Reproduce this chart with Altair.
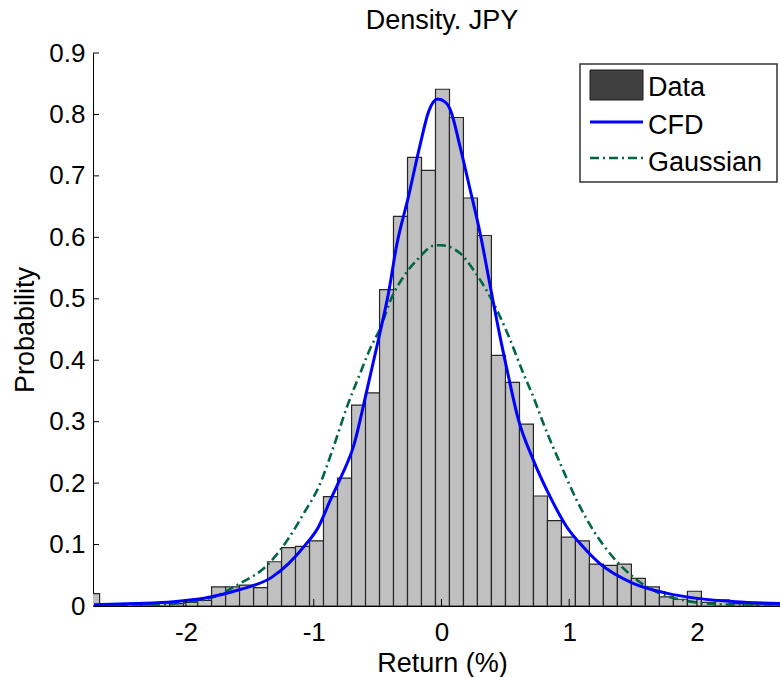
import altair as alt
import pandas as pd

# ---------------- data ----------------
BIN_CENTERS = [-2.731, -2.621, -2.512, -2.402, -2.293, -2.183, -2.074, -1.964, -1.854, -1.745,
               -1.635, -1.526, -1.416, -1.307, -1.197, -1.088, -0.978, -0.869, -0.759, -0.649,
               -0.540, -0.430, -0.321, -0.211, -0.102, 0.008, 0.117, 0.227, 0.336, 0.446,
               0.556, 0.665, 0.775, 0.884, 0.994, 1.103, 1.213, 1.322, 1.432, 1.541,
               1.651, 1.761, 1.870, 1.980, 2.089, 2.199, 2.308, 2.418, 2.527, 2.637]
BIN_HEIGHTS = [0.020, 0.002, 0.001, 0.003, 0.002, 0.005, 0.004, 0.006, 0.009, 0.031,
               0.031, 0.034, 0.030, 0.072, 0.095, 0.097, 0.106, 0.178, 0.208, 0.327,
               0.347, 0.515, 0.634, 0.730, 0.709, 0.841, 0.795, 0.664, 0.603, 0.408,
               0.364, 0.296, 0.179, 0.139, 0.112, 0.106, 0.068, 0.066, 0.068, 0.045,
               0.031, 0.015, 0.011, 0.024, 0.006, 0.010, 0.004, 0.003, 0.003, 0.002]
BIN_WIDTH = 0.1096

CFD_X = [-2.72, -2.4, -2.1, -1.85, -1.59, -1.327, -1.197, -1.067, -0.962, -0.871, -0.78,
         -0.69, -0.585, -0.48, -0.415, -0.35, -0.26, -0.17, -0.10, -0.03, 0.03, 0.07, 0.146,
         0.225, 0.303, 0.383, 0.45, 0.52, 0.60, 0.72, 0.85, 0.98, 1.11, 1.24, 1.50, 1.76,
         2.02, 2.3, 2.65]
CFD_Y = [0.002, 0.004, 0.007, 0.013, 0.026, 0.047, 0.069, 0.099, 0.129, 0.172, 0.213,
         0.259, 0.350, 0.446, 0.509, 0.588, 0.665, 0.748, 0.805, 0.825, 0.820, 0.807, 0.747,
         0.677, 0.606, 0.519, 0.447, 0.378, 0.305, 0.237, 0.178, 0.129, 0.096, 0.069, 0.037,
         0.021, 0.012, 0.007, 0.004]

GAUSS_X = [-2.72, -2.3, -2.04, -1.78, -1.575, -1.366, -1.21, -1.08, -0.95, -0.845, -0.74,
           -0.636, -0.558, -0.48, -0.388, -0.297, -0.192, -0.05, 0.0, 0.146, 0.25, 0.381,
           0.512, 0.642, 0.72, 0.798, 0.929, 1.059, 1.189, 1.32, 1.502, 1.713, 1.894,
           2.155, 2.65]
GAUSS_Y = [0.001, 0.0015, 0.005, 0.015, 0.037, 0.066, 0.106, 0.150, 0.199, 0.259, 0.324,
           0.379, 0.419, 0.452, 0.503, 0.536, 0.563, 0.587, 0.587, 0.574, 0.547, 0.503,
           0.446, 0.378, 0.340, 0.297, 0.232, 0.172, 0.123, 0.085, 0.047, 0.020, 0.0094,
           0.003, 0.000]

X_TICKS = [-2, -1, 0, 1, 2]
Y_TICKS = [0, 0.1, 0.2, 0.3, 0.4, 0.5, 0.6, 0.7, 0.8, 0.9]
LEGEND_LABELS = ["Data", "CFD", "Gaussian"]
TITLE = "Density. JPY"
X_TITLE = "Return (%)"
Y_TITLE = "Probability"

FONT = "Liberation Sans"
W, H = 687, 553

# ---------------- tables ----------------
bars_df = pd.DataFrame({"center": BIN_CENTERS, "height": BIN_HEIGHTS})
bars_df["x0"] = bars_df["center"] - BIN_WIDTH / 2
bars_df["x1"] = bars_df["center"] + BIN_WIDTH / 2
bars_df["base"] = 0.0
cfd_df = pd.DataFrame({"x": CFD_X, "y": CFD_Y})
gauss_df = pd.DataFrame({"x": GAUSS_X, "y": GAUSS_Y})

xscale = alt.Scale(domain=[-2.728, 2.650], nice=False, zero=False)
yscale = alt.Scale(domain=[0, 0.9], nice=False, zero=False)

x_axis = alt.Axis(values=X_TICKS, labelExpr="datum.value + ''", title=X_TITLE,
                  labelPadding=13, titleX=349, titleY=57, titleBaseline="middle")
y_axis = alt.Axis(values=Y_TICKS, format=".1~f", title=Y_TITLE, labelPadding=8,
                  titleX=-68, titleBaseline="middle")

bars = alt.Chart(bars_df).mark_rect(
    fill="#c0c0c0", stroke="#262626", strokeWidth=1.2, clip=True
).encode(
    x=alt.X("x0:Q", scale=xscale, axis=x_axis),
    x2="x1:Q",
    y=alt.Y("height:Q", scale=yscale, axis=y_axis),
    y2="base:Q",
)

cfd = alt.Chart(cfd_df).mark_line(
    color="#0000ff", strokeWidth=3, interpolate="monotone", clip=True
).encode(x=alt.X("x:Q", scale=xscale, axis=x_axis), y=alt.Y("y:Q", scale=yscale, axis=y_axis))

gauss = alt.Chart(gauss_df).mark_line(
    color="#006644", strokeWidth=2.6, strokeDash=[9, 4, 2, 4], interpolate="monotone", clip=True
).encode(x=alt.X("x:Q", scale=xscale, axis=x_axis), y=alt.Y("y:Q", scale=yscale, axis=y_axis))

ytick = alt.Chart(pd.DataFrame({"v": Y_TICKS[1:]})).mark_rule(color="black", strokeWidth=1).encode(
    y=alt.Y("v:Q", scale=yscale, axis=y_axis), x=alt.value(0), x2=alt.value(6))
xtick = alt.Chart(pd.DataFrame({"v": X_TICKS})).mark_rule(color="black", strokeWidth=1).encode(
    x=alt.X("v:Q", scale=xscale, axis=x_axis), y=alt.value(H), y2=alt.value(H - 7))

one = pd.DataFrame({"k": [0]})
leg_box = alt.Chart(one).mark_rect(fill="white", stroke="#333333", strokeWidth=1.5).encode(
    x=alt.value(487), x2=alt.value(684), y=alt.value(11), y2=alt.value(129))
leg_data = alt.Chart(one).mark_rect(fill="#404040", stroke="#1a1a1a", strokeWidth=1).encode(
    x=alt.value(497), x2=alt.value(550), y=alt.value(17), y2=alt.value(47))
leg_cfd = alt.Chart(one).mark_rule(color="#0000ff", strokeWidth=3).encode(
    x=alt.value(497), x2=alt.value(550), y=alt.value(69))
leg_gauss = alt.Chart(one).mark_rule(color="#006644", strokeWidth=2.6, strokeDash=[9, 4, 2, 4]).encode(
    x=alt.value(497), x2=alt.value(550), y=alt.value(105))


def text_layer(txt, xpos, ypos, align="left"):
    return alt.Chart(pd.DataFrame({"t": [txt]})).mark_text(
        font=FONT, fontSize=27, align=align, baseline="middle", color="black"
    ).encode(text="t:N", x=alt.value(xpos), y=alt.value(ypos))


leg_texts = [text_layer(lbl, 555, yp) for lbl, yp in zip(LEGEND_LABELS, [35, 73, 110])]
title = text_layer(TITLE, 349, -32, align="center")

chart = alt.layer(
    bars, gauss, cfd, ytick, xtick, leg_box, leg_data, leg_cfd, leg_gauss, *leg_texts, title
).properties(
    width=W, height=H,
    padding={"left": 93, "top": 53, "right": 0, "bottom": 71},
    autosize=alt.AutoSizeParams(type="none"),
).configure_view(stroke=None).configure_axis(
    domainColor="black", domainWidth=1, grid=False, ticks=False, tickSize=0,
    labelFont=FONT, labelFontSize=26, labelColor="black",
    titleFont=FONT, titleFontSize=27, titleFontWeight="normal", titleColor="black",
)

chart.save("out.html", embed_options={"renderer": "svg", "actions": False})
